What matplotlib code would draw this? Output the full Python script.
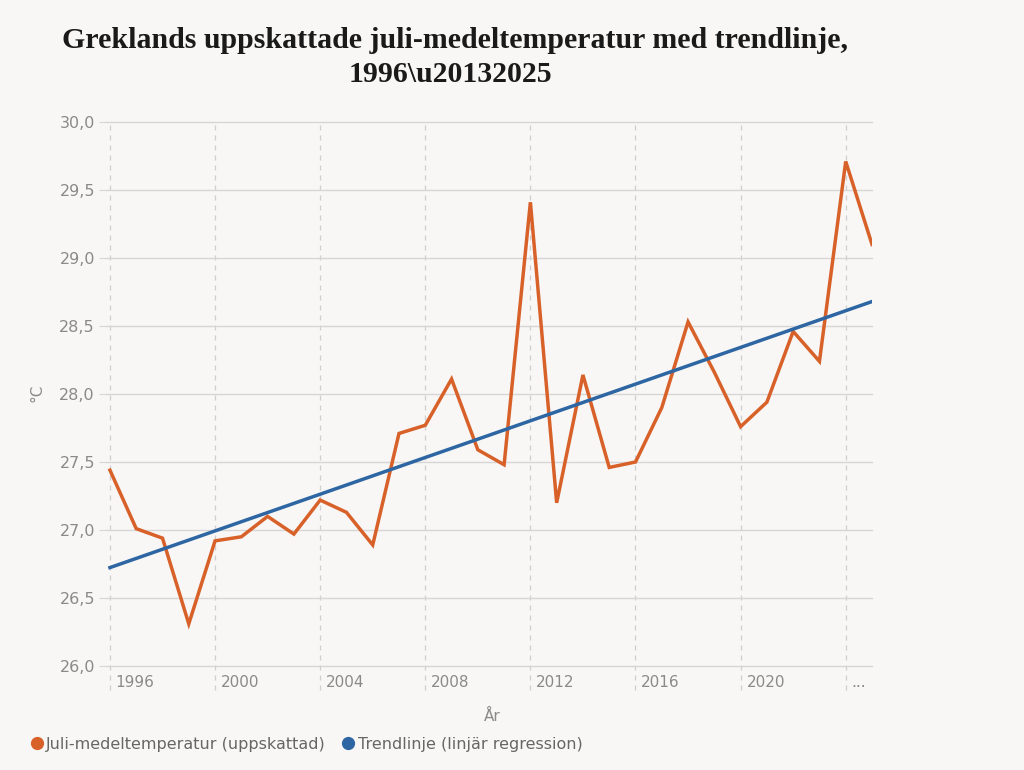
import matplotlib
matplotlib.use('Agg')
import matplotlib.pyplot as plt
import matplotlib.transforms as mtransforms
from matplotlib.lines import Line2D
import numpy as np

# Colors
BG = '#f8f7f5'
ORANGE = '#d8612a'
BLUE = '#2d66a2'
GRID = '#d6d6d6'
TEXT = '#8a8a8a'

# Data
years = list(range(1996, 2026))
temps = [27.44, 27.01, 26.94, 26.31, 26.92, 26.95, 27.10, 26.97, 27.22, 27.13,
         26.89, 27.71, 27.77, 28.11, 27.59, 27.48, 29.41, 27.20, 28.14, 27.46,
         27.50, 27.90, 28.53, 28.16, 27.76, 27.94, 28.46, 28.24, 29.71, 29.10]
tick_years = [1996, 2000, 2004, 2008, 2012, 2016, 2020, 2024]
tick_labels = ['1996', '2000', '2004', '2008', '2012', '2016', '2020', '...']
y_ticks = [26.0, 26.5, 27.0, 27.5, 28.0, 28.5, 29.0, 29.5, 30.0]

# Linear regression trend line
coef = np.polyfit(years, temps, 1)
trend = np.polyval(coef, years)

fig = plt.figure(figsize=(10.24, 7.7), dpi=100, facecolor=BG)
ax = fig.add_axes([106 / 1024, 104 / 770, 766 / 1024, 544 / 770], facecolor=BG)

ax.set_xlim(1995.85, 2025)
ax.set_ylim(26.0, 30.0)

# horizontal grid
ax.set_yticks(y_ticks)
ax.set_yticklabels([f'{v:.1f}'.replace('.', ',') for v in y_ticks],
                   fontsize=11.5, color=TEXT)
ax.yaxis.grid(True, color=GRID, linewidth=1.0)
for gl in ax.get_ygridlines():
    gl.set_clip_on(False)
ax.tick_params(axis='y', length=5, color=GRID, pad=3)
ax.set_axisbelow(True)

# vertical dashed lines reaching below the axis
trans = mtransforms.blended_transform_factory(ax.transData, ax.transAxes)
ax.vlines(tick_years, -0.045, 1.0, transform=trans, colors='#cfcfcf',
          linestyles=(0, (4, 4)), linewidth=0.9, clip_on=False, zorder=0)
ax.set_xticks([])
for yr, lab in zip(tick_years, tick_labels):
    ax.text(yr + 0.22, -0.031, lab, transform=trans, fontsize=11, color=TEXT,
            ha='left', va='center')

for s in ax.spines.values():
    s.set_visible(False)

ax.plot(years, temps, color=ORANGE, linewidth=2.5, solid_joinstyle='miter', zorder=3)
ax.plot(years, trend, color=BLUE, linewidth=2.5, zorder=4)

# axis labels
fig.text(37 / 1024, 1 - 393 / 770, '°C', rotation=90, fontsize=11, color=TEXT,
         ha='center', va='center')
fig.text(492 / 1024, 1 - 716 / 770, 'År', fontsize=11, color=TEXT,
         ha='center', va='center')

# title (two lines)
title_kw = dict(fontsize=21.5, fontweight='bold', family='Liberation Serif',
                color='#1a1a1a', ha='center', va='center')
fig.text(455 / 1024, 1 - 41 / 770,
         'Greklands uppskattade juli-medeltemperatur med trendlinje,', **title_kw)
fig.text(450 / 1024, 1 - 74 / 770, '1996\\u20132025', **title_kw)

# legend
handles = [
    Line2D([], [], marker='o', linestyle='none', markersize=8.5, color=ORANGE,
           label='Juli-medeltemperatur (uppskattad)'),
    Line2D([], [], marker='o', linestyle='none', markersize=8.5, color=BLUE,
           label='Trendlinje (linjär regression)'),
]
fig.legend(handles=handles, loc='center left', bbox_to_anchor=(0.014, 1 - 744 / 770),
           ncol=2, frameon=False, fontsize=11.5, labelcolor='#666666',
           handletextpad=0.1, columnspacing=0.9, handlelength=1.0)

fig.savefig('out.png', dpi=100, facecolor=BG)
